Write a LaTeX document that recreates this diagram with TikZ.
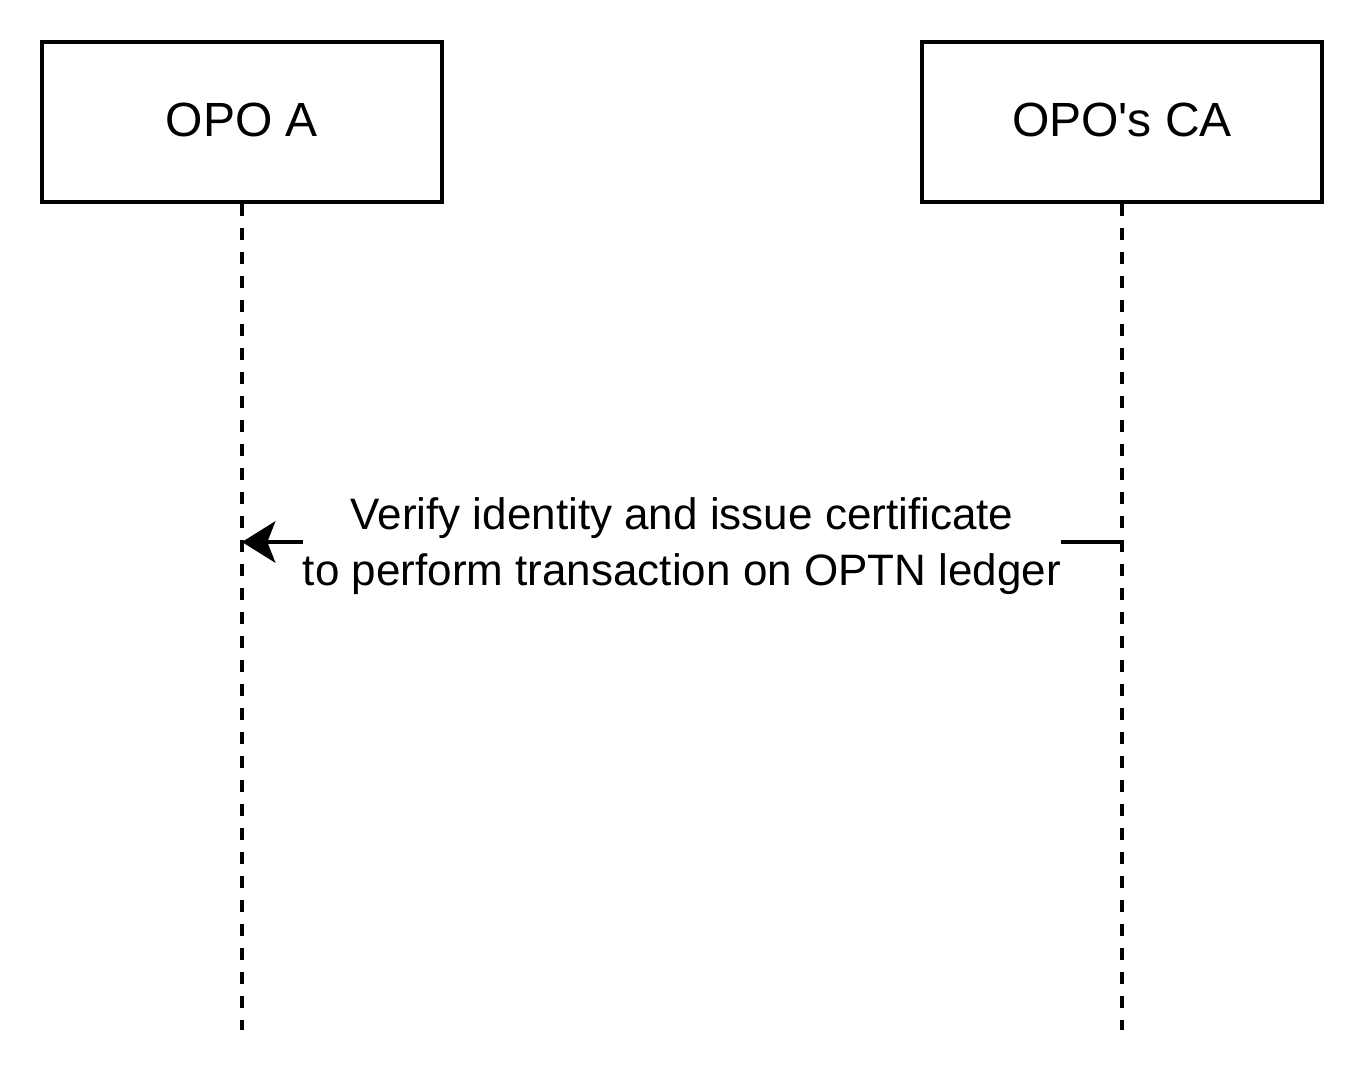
\documentclass[tikz,border=0pt]{standalone}
\usepackage{fontspec}
\newfontfamily\lblfont{Liberation Sans}
\usetikzlibrary{arrows.meta}

\begin{document}
\begin{tikzpicture}[x=0.75pt,y=-0.75pt,
    actor/.style={draw,line width=3pt,minimum width=300pt,minimum height=120pt,inner sep=0pt,text depth=4pt,font=\lblfont\fontsize{36}{42}\selectfont},
    lifeline/.style={line width=3pt,dash pattern=on 9pt off 9pt},
    msg/.style={line width=3pt,-{Stealth[length=25pt,width=31pt,inset=6pt]}},
    msglabel/.style={fill=white,inner xsep=0pt,inner ysep=2pt,align=center,font=\lblfont\fontsize{33}{42}\selectfont}]
  \useasboundingbox (0,0) rectangle (1364,1084);
  % participants
  \node[actor] (opoa) at (242,122) {OPO A};
  \node[actor] (opoca) at (1122,122) {OPO's CA};
  \coordinate (aend) at (242,1030);
  \coordinate (caend) at (1122,1030);
  \draw[lifeline] (opoa.south) -- (aend);
  \draw[lifeline] (opoca.south) -- (caend);
  % message
  \coordinate (amsg) at (242,542);
  \coordinate (camsg) at (1122,542);
  \draw[msg] (camsg) -- node[msglabel,yshift=-3pt] (verify) {Verify identity and issue certificate\\to perform transaction on OPTN ledger} (amsg);
\end{tikzpicture}
\end{document}
